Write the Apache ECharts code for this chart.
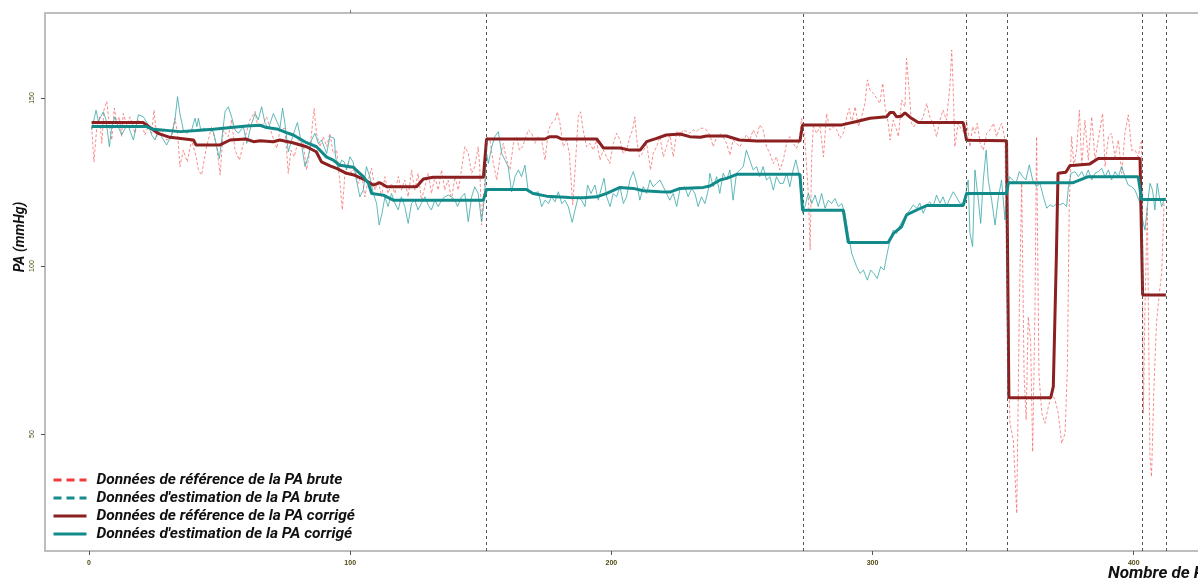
<!DOCTYPE html>
<html><head><meta charset="utf-8">
<script src="https://cdn.jsdelivr.net/npm/echarts@6/dist/echarts.min.js"></script>
<style>html,body{margin:0;padding:0;background:#fff}#c{width:1198px;height:581px}</style>
</head><body><div id="c"></div>
<script>
const xTicks = [0, 100, 200, 300, 400];
const yTicks = [50, 100, 150];
const changePoints = [152.2, 273.3, 336, 351.5, 403.4, 412.3];
const seriesNames = [
  "Données de référence de la PA brute",
  "Données d'estimation de la PA brute",
  "Données de référence de la PA corrigé",
  "Données d'estimation de la PA corrigé"
];
const refRaw = [
[1,141.5],[1.9,131],[2.9,140.5],[4,144.4],[4.9,136.5],[5.7,146.4],[6.8,149],[7.8,141.5],[8.7,137.5],[9.7,147],[10.6,142.5],[11.6,144.4],[12.5,138.5],[13.1,145.4],[14.4,142],[15.7,144.4],[17.6,139.5],[18.9,143.5],[20.2,142.5],[21.4,139],[22.7,141.5],[24,139.5],[24.9,146.4],[25.9,138.5],[27.8,140.5],[29.7,137.5],[31.6,138],[32.9,144],[33.9,139.5],[34.8,129.6],[36.1,134.5],[37.6,131],[39.3,137.5],[41,132.5],[41.9,128.6],[43.1,127.1],[45,135.5],[47,141.5],[48.9,135.5],[50.2,127.1],[51.4,140.5],[53.3,138.5],[54.6,143.5],[55.9,134.5],[57.6,131.5],[59.1,136.5],[61.6,143.5],[63.6,146],[64.5,142],[66.1,141.5],[68,144.4],[69.9,139.5],[71.9,135],[73.1,140.5],[75,141],
[76.3,127.6],[77.3,134.5],[78.6,132.5],[80.1,137.5],[82,136.5],[83.3,128.6],[84.2,132.5],[85.2,139.5],[86.2,146.9],[87.1,139.5],[88.4,135.5],[89.7,138.5],[91,135.5],[92.2,139.5],[93.5,133.5],[94.8,134.5],[96.1,124.6],[97,116.7],[98,127.6],[99.3,130.6],[100.5,127.6],[101.8,129.6],[103.1,124.6],[104.4,127.6],[105.6,120.6],[106.9,125.6],[108.2,129.1],[109.5,122.6],[110.7,125.6],[112,120.6],[113.3,126.6],[114.5,121.6],[115.8,124.6],[117.1,121.6],[118.4,126.6],[119.6,122.6],[120.9,125.6],[122.2,120.6],[123.5,128.6],[124.7,122.6],[126,127.6],[127.3,119.6],[128.6,123.6],[129.9,127.6],[131.1,121.6],[132.4,126.6],[133.7,122.6],[135,128.6],[136.2,122.6],[137.5,125.6],[138.8,119.6],[140.1,126.6],[141.4,122.6],[142.6,128.6],[143.9,135.5],[145.2,133.5],[146.5,127.6],[147.7,129.6],[149,135.5],[149.6,129.6],[150.3,112.2],[151,119.6],[151.8,127.6],
[152.2,138.5],[153.5,137.5],[154.8,130.6],[156.1,125.6],[157.4,132.5],[158.6,136.5],[159.9,131.5],[161.2,128.6],[162.5,136.5],[163.7,138.5],[164.8,134.5],[166,135.5],[167.3,138.5],[168.2,140.5],[169.5,139.5],[170.7,136.5],[172,138.5],[173.3,137.5],[174.6,131.5],[175.9,140.5],[177.1,142.5],[178.4,143.4],[179.3,145.9],[180.3,142.5],[181.6,135.5],[182.9,137.5],[183.9,133.5],[185.2,118.2],[186.1,128.6],[187.3,144.4],[188.2,145.9],[189.2,140.5],[190.5,135.5],[191.8,136.5],[193.1,134.5],[194.3,137.5],[195.6,131.5],[196.9,134.5],[198.2,132.5],[199.4,130.5],[200.7,136.5],[202,139.5],[203.3,137.5],[204.5,133.5],[205.8,134.5],[207.1,138.5],[208.1,140.5],[209,144.4],[209.6,138.5],[210.7,132.5],[211.9,133.5],[213.5,136.5],[215,128.6],[216,133.5],[217.3,135.5],[218.6,138.5],[219.9,132.5],[221.1,135.5],
[222.4,139],[223.7,132.5],[225,140],[226.2,138.5],[227.5,140.5],[228.8,140],[230,139.5],[231.3,140.5],[232.6,140],[233.9,141],[235.2,141],[236.4,140.5],[237.7,139],[239,135.5],[240.3,138.5],[241.5,139.5],[242.8,138.5],[244.1,136.5],[245.4,133],[246.6,137.5],[247.9,136.5],[249.2,135.5],[250.5,137.5],[251.7,139],[253,137.5],[254.3,140.5],[255.6,138.5],[256.8,142],[258.1,140.5],[259.4,135.5],[260.7,133.5],[262,130.5],[263.2,132.5],[264.5,128.6],[265.8,131.5],[267.1,136.5],[268.3,138.5],[269.6,136.5],[270.9,135],[271.9,137.5],[272.8,143.9],[273.4,141.5],
[274,138.5],[275.4,121.6],[276.1,104.8],[276.7,132.5],[277.3,141.5],[278.6,139.5],[279.9,141.5],[281.2,132.5],[282.4,145.4],[283.7,140.5],[285,141.5],[286.3,140.5],[287.5,138],[288.8,139.5],[290.1,144.4],[291.1,146.9],[292,142.5],[293.3,147.4],[294.6,141.5],[295.8,144.4],[297.1,148.4],[298,155.4],[299,152.4],[300.3,151.4],[301.6,149.9],[302.8,148.4],[303.9,154.4],[304.8,147.4],[306,142.5],[306.7,137.5],[307.9,143.4],[309.2,140.5],[309.9,138.5],[311.1,149.4],[312.4,147.4],[313,161.8],[314,152.4],[314.9,142.5],[315.8,141.5],[316.9,143.4],[318.1,142.5],[319.4,144.4],[320.7,148.4],[321.9,144.4],[323.2,142.5],[324.5,138.5],[325.8,143.4],[327,146.4],[328.3,143.4],[329.6,153.4],[330.3,164.3],[330.9,152.4],[331.5,135.5],[332.8,142.5],[334.1,140.5],[335.4,139.5],
[336,143.4],[337.3,135.5],[338.3,141.5],[339.2,139.5],[340.1,142.5],[341.2,136.5],[342.4,134.5],[343.7,139.5],[345,140.5],[346.3,142.5],[347.5,138.5],[348.8,141.5],[349.4,142.5],[350.7,137.5],[351.4,91.9],[352.6,53.2],[353.9,48.2],[355.2,26.4],[356.2,87.9],[357.1,124.6],[358,68],[358.8,54.2],[359.6,84.9],[360.5,78],[361.3,44.7],[362.2,87.9],[362.8,138.5],[363.7,68],[364.8,56.2],[366,53.2],[367.3,58.1],[368.6,62.1],[369.9,60.1],[371.1,56.2],[372.4,47.2],[373.7,50.2],[374.6,70],[375.3,117.7],[376.2,138.5],[377.1,129.6],[378.1,134.5],[379.2,146.4],[380.1,129.6],[381.3,143.4],[382.6,131.5],[383.9,144.4],[385.2,131.5],[386.4,137.5],[388.1,145.4],[389,129.6],[390.3,138.5],[391.5,139.5],[392.8,132.5],[394.1,137.5],[395.4,127.6],[396.6,139.5],[397.9,145],[399.2,134.5],[400.5,134.5],[401.7,132.5],[403,137.5],[403.7,56.2],[404.3,87.9],[405.2,117.7],[406.2,43.3],[406.8,37.3],[407.7,63.1],[408.7,82.9],[409.8,91.9],[410.7,97.8],[411.6,118.7]
];
const estRaw = [
[1,140.5],[2.7,146.4],[3.6,143],[4.5,144.4],[5.5,145.9],[6.5,143.5],[7.8,135.5],[8.7,141.5],[9.9,144.4],[11.2,141.5],[12.5,139],[13.8,141],[15.1,141.5],[17,137.5],[18.9,145],[20.8,144.4],[22.7,142],[24,139],[25.3,137.5],[26.5,140.5],[27.8,138.5],[29.7,136],[31.6,139],[32.9,143.5],[33.9,150.4],[34.8,145.4],[36.1,140.5],[37.4,139.5],[39.3,140.5],[40.6,144],[41.3,141.5],[41.9,144],[42.8,140.5],[43.8,141],[45.7,140.5],[47.6,140],[48.9,135.5],[49.9,132],[50.8,137.5],[52.1,146],[53.3,147.4],[54.6,144.4],[55.9,140.5],[57.2,139.5],[59.1,141.5],[60.4,136.5],[62.3,142.5],[63.6,145.4],[64.8,143.5],[66.1,147.4],[67.4,142.5],[68.7,141],[70.6,145.4],[71.9,143],[73.1,141],[74.1,147],[75,142.5],[76.3,134],
[77.6,137.5],[78.8,140.5],[79.8,142.7],[81.1,137.5],[82.7,129.6],[83.9,132.5],[85.2,137.5],[86.5,139.5],[87.8,136.5],[89,137.5],[91,133.5],[92.2,138.5],[93.9,138],[94.4,132.5],[95.4,128.6],[96.7,131.5],[97.7,131],[98.6,128.6],[99.9,132.5],[101.1,131],[102.4,125.6],[103.7,120.6],[105,122.6],[106.2,129.6],[107.5,126.6],[108.8,121.6],[110.1,118.7],[111.1,112.2],[112.2,115.7],[113.3,120.6],[114.5,117.7],[115.8,121.6],[117.1,118.7],[118.4,116.7],[119.6,120.6],[120.9,117.7],[122.2,112.7],[123.5,118.7],[124.7,119.6],[126,116.7],[127.3,118.7],[128.6,120.6],[129.9,118.1],[131.1,116.7],[132.4,119.6],[133.7,117.7],[135,119.6],[136.2,120.6],[137.5,121.1],[138.8,120.6],[140.1,119.6],[141.1,117.7],[142.6,120.6],[143.9,121.6],[145.2,113.2],[146.5,120.6],[147.7,123.6],[149,121.6],[150.3,113.2],[151.6,121.6],
[152,134.5],[152.9,130.5],[154.2,135.5],[155.4,138.5],[156.7,140],[158,133.5],[159.3,131.5],[160.5,129.5],[161.8,122.1],[163.1,126.6],[164.4,128.6],[165.6,126.6],[166.9,130],[168.2,122.1],[170.1,121.6],[172,122.1],[173.3,117.7],[174.6,119.6],[175.9,118.6],[177.1,120.6],[178.4,119.1],[179.7,122.1],[181,118.6],[182.2,119.6],[183.5,117.7],[185,113],[186.1,116.7],[187.3,120.6],[188.6,119.6],[189.9,117.7],[190.9,124.1],[192.2,121.6],[193.7,124.1],[195,119.6],[196.3,123.6],[197.2,126.1],[198.2,120.6],[199.5,117.7],[200.7,121.6],[202,120.6],[203.3,123.6],[204.6,118.6],[205.8,120.6],[207.1,125.6],[208.4,128.1],[209.7,124.6],[210.9,119.6],[212.2,123.6],[213.5,121.6],[214.8,125.6],[216,123.6],[217.3,124.6],[218.6,125.6],[219.9,123.6],[221.1,121.6],
[222.4,119.6],[223.7,121.6],[225,117.7],[226.2,122.6],[228.1,123.6],[229.4,120.6],[230.7,123.1],[232,121.6],[233.2,117.7],[234.5,120.6],[235.8,118.6],[237.1,122.6],[237.7,127.6],[239,123.6],[240.3,126.6],[241.5,121.6],[242.8,127.6],[244.1,125.6],[245.4,128.6],[246.6,119.6],[247.9,127.6],[249.2,128.6],[250.5,129.6],[251.7,134.5],[253,131.5],[254.3,128.6],[255.6,129.6],[256.8,126.6],[258.1,129.6],[259.4,125.6],[260.7,126.6],[262,122.6],[263.2,126.6],[264.5,124.6],[265.8,124.6],[267.1,127.6],[268.3,123.6],[269.6,128.6],[270.6,131.6],[271.5,128.6],[272.4,123.6],[273.2,115.7],
[274.1,117.7],[275.4,121.6],[276.7,118.6],[278,121.1],[279.2,117.7],[280.5,121.6],[281.8,117.2],[283.1,119.6],[284.3,118.6],[285.6,120.1],[286.9,117.7],[288.2,118.6],[289.4,115.7],[290.7,109.7],[292,103.8],[293.9,99.8],[295.2,97.8],[296.5,98.8],[298,95.8],[299.3,98.8],[300.5,97.8],[301.8,96.3],[303.1,99.8],[304.4,98.8],[305.6,103.8],[306.7,107.7],[307.9,110.7],[309.2,109.7],[310.5,112.2],[312.4,114.7],[314.3,116.7],[315.6,118.2],[316.9,117.2],[318.1,118.7],[319.4,115.7],[320.7,118.2],[321.9,119.1],[323.2,117.7],[324.5,121.1],[325.8,118.7],[327,120.6],[328.3,117.7],[329.6,120.1],[330.9,122.1],[332.1,120.6],[333.4,118.7],[334.7,118.7],[335.7,121.6],[336.6,125.6],
[337.3,109.7],[338.3,105.8],[339.2,128.6],[340.5,119.6],[341.4,112.7],[342.4,125.6],[343.5,134.5],[344.3,125.6],[345.6,119.6],[346.9,112.2],[348.2,120.6],[349.4,125.6],[350.7,113.7],[351.4,121.6],[352.4,126.6],[353.6,125.6],[354.9,124.6],[356.2,128.1],[357.5,126.6],[358.7,125.6],[360,130.1],[361.3,125.6],[362.8,123.6],[364.1,124.6],[365.4,120.6],[366.7,117.2],[367.9,118.2],[369.2,117.7],[370.5,118.7],[371.8,118.2],[373,118.7],[374.3,117.7],[375,123.6],[376,127.6],[377.5,128.1],[378.8,126.6],[380.1,128.1],[381.3,126.1],[382.6,128.6],[383.9,125.6],[385.2,127.6],[386.4,128.1],[387.7,129.1],[389,126.6],[390.3,128.6],[391.5,125.6],[392.8,128.1],[394.1,126.6],[395.4,129.6],[396.6,126.6],[397.9,124.1],[399.2,123.6],[400.5,122.6],[402.4,118.7],[403.4,113.7],[404.3,110.7],[405.2,117.7],[406.2,124.6],[407.2,122.6],[408.1,116.7],[409,124.6],[409.8,120.6],[410.7,117.7],[411.6,119.6]
];
const refCorr = [
[1,142.7],[20.7,142.7],[26.4,139.5],[31,138.3],[40,137.5],[41,136],[50,136],[54,137.5],[60,137.8],[63,137],[65.5,137.3],[70.5,137],[73,137.5],[78,136.7],[83.3,135.5],[87,134],[89,131],[92.3,129.8],[95,129],[98.6,127.6],[101.8,127],[105.7,125.6],[108.8,124.1],[111.4,124.8],[114,123.6],[125.4,123.6],[128,125.9],[131.8,126.4],[151,126.4],[152.2,137.8],[174.6,137.8],[176.5,138.5],[179,138.5],[181,137.8],[194.4,137.8],[197,135.1],[203.3,135.1],[207,134.5],[211,134.5],[213.5,137],[217.3,138],[221,139],[226.3,139.3],[230,138.5],[234,138.3],[236.5,138.7],[244,138.7],[249,137.5],[255.6,137.2],[272.2,137.2],[273.2,142],[288.2,142],[288.8,142.5],[293.9,143],[299,144],[305.4,144.4],[306.7,145.7],[308,145.7],[309.2,144.4],[311,144.6],[312.4,145.6],[314.3,144.3],[317.5,142.7],[334.7,142.7],[336,137.4],[351.3,137.3],[352.2,60.8],[368.2,60.8],[369.2,64.1],[370.4,103.8],[371,127.6],[374,127.9],[375.6,129.9],[377.5,130],[383.2,130.4],[386.4,132],[402.4,132],[403.4,91.4],[412.3,91.4]
];
const estCorr = [
[1,141.5],[22,141.5],[24.6,140.7],[35,140],[41.2,140.3],[47.6,140.7],[55.3,141.3],[60.4,141.7],[65.5,141.9],[68,141.2],[72.5,140.7],[75.6,139.7],[78.2,139],[83.3,136.7],[87.1,135.5],[91,132.4],[93.5,131.5],[96,130],[101.2,129.4],[105,126.6],[107,124.6],[108.2,121.6],[112.7,121.1],[116.5,119.6],[151,119.6],[152.2,122.8],[167.5,122.8],[170,121.6],[175.2,120.8],[184,120.4],[189.2,120.3],[194.4,120.6],[198.2,121.6],[203.3,123.4],[208.4,123.1],[212.2,122.4],[218.6,122.1],[222.4,122],[226.3,123.1],[235.2,123.4],[237.7,123.8],[241.6,125.6],[244.1,126.1],[248,127.3],[272.2,127.3],[273.2,116.6],[288.8,116.6],[290.7,107],[306,107],[308,109.7],[311.1,111.7],[313,115.2],[317.5,116.9],[320.7,118],[334.7,118],[336,121.6],[351.3,121.6],[352,124.8],[376.8,124.8],[382.6,126.6],[401.7,126.6],[403,119.8],[412.3,119.8]
];

const FONT = "Roboto,'Liberation Sans',sans-serif";
const chart = echarts.init(document.getElementById('c'), null, {renderer: 'canvas'});
const axisGray = '#bdbdbd';
const legendText = {fontFamily: FONT, fontStyle: 'italic', fontWeight: 'bold', fontSize: 15.5, color: '#111'};
chart.setOption({
  animation: false,
  backgroundColor: '#ffffff',
  grid: {left: 45, right: 0, top: 13, bottom: 30, containLabel: false},
  xAxis: [{
    type: 'value', min: -16.85, max: 424.6, position: 'bottom',
    axisLine: {show: true, onZero: false, lineStyle: {color: axisGray, width: 2}},
    axisTick: {show: true, customValues: xTicks, length: 4, lineStyle: {color: '#555', width: 1}},
    axisLabel: {customValues: xTicks, fontSize: 7, fontWeight: 'bold', color: '#4f4a12', margin: 9, fontFamily: 'Liberation Sans'},
    splitLine: {show: false}
  }, {
    type: 'value', min: -16.85, max: 424.6, position: 'top',
    axisLine: {show: true, onZero: false, lineStyle: {color: axisGray, width: 2}},
    axisTick: {show: true, customValues: [100], length: 3, lineStyle: {color: '#777', width: 1}},
    axisLabel: {show: false},
    splitLine: {show: false}
  }],
  yAxis: {
    type: 'value', min: 15.2, max: 175.3,
    axisLine: {show: true, onZero: false, lineStyle: {color: axisGray, width: 2}},
    axisTick: {show: true, customValues: yTicks, length: 4, lineStyle: {color: '#555', width: 1}},
    axisLabel: {customValues: yTicks, rotate: 90, fontSize: 7, color: '#4f4a12', margin: 9, fontFamily: 'Liberation Sans'},
    splitLine: {show: false}
  },
  legend: {
    type: 'plain', orient: 'vertical', left: 52, top: 471, width: 500, height: 90,
    bottom: 'auto', right: 'auto', padding: 0,
    itemWidth: 33, itemHeight: 18, itemGap: 0,
    selectedMode: false,
    textStyle: Object.assign({lineHeight: 18, padding: [0, 0, 0, 5]}, legendText),
    data: [
      {name: seriesNames[0], itemStyle: {opacity: 0}, lineStyle: {type: [8, 5], width: 3, color: '#f03c3c', opacity: 1}},
      {name: seriesNames[1], itemStyle: {opacity: 0}, lineStyle: {type: [8, 5], width: 3, color: '#168c8c', opacity: 1}},
      {name: seriesNames[2], itemStyle: {opacity: 0}, lineStyle: {width: 3, color: '#8c1f1f', opacity: 1}},
      {name: seriesNames[3], itemStyle: {opacity: 0}, lineStyle: {width: 3, color: '#138a8a', opacity: 1}}
    ]
  },
  graphic: [
    {type: 'text', x: 20, y: 237, rotation: Math.PI / 2,
     style: {text: 'PA (mmHg)', font: "italic bold 14px " + FONT, fill: '#111', align: 'center', verticalAlign: 'middle'}},
    {type: 'text', x: 1108, y: 574,
     style: {text: 'Nombre de PA', font: "italic bold 17px " + FONT, fill: '#111', align: 'left', verticalAlign: 'middle'}}
  ],
  series: [
    {name: seriesNames[0], type: 'line', data: refRaw, symbol: 'none', z: 2,
     lineStyle: {color: '#f46a6a', width: 1, type: [3, 2], opacity: 0.75}, itemStyle: {color: '#f03c3c'},
     markLine: {silent: true, symbol: ['none', 'none'], label: {show: false},
       lineStyle: {color: '#555', width: 1, type: [3, 3]},
       data: changePoints.map(v => ({xAxis: v}))}},
    {name: seriesNames[1], type: 'line', data: estRaw, symbol: 'none', z: 3,
     lineStyle: {color: '#3aa7a7', width: 1, opacity: 0.8}, itemStyle: {color: '#168c8c'}},
    {name: seriesNames[2], type: 'line', data: refCorr, symbol: 'none', z: 4,
     lineStyle: {color: '#8c1f1f', width: 3}, itemStyle: {color: '#8c1f1f'}},
    {name: seriesNames[3], type: 'line', data: estCorr, symbol: 'none', z: 5,
     lineStyle: {color: '#138a8a', width: 3}, itemStyle: {color: '#138a8a'}}
  ]
});
</script>
</body></html>
